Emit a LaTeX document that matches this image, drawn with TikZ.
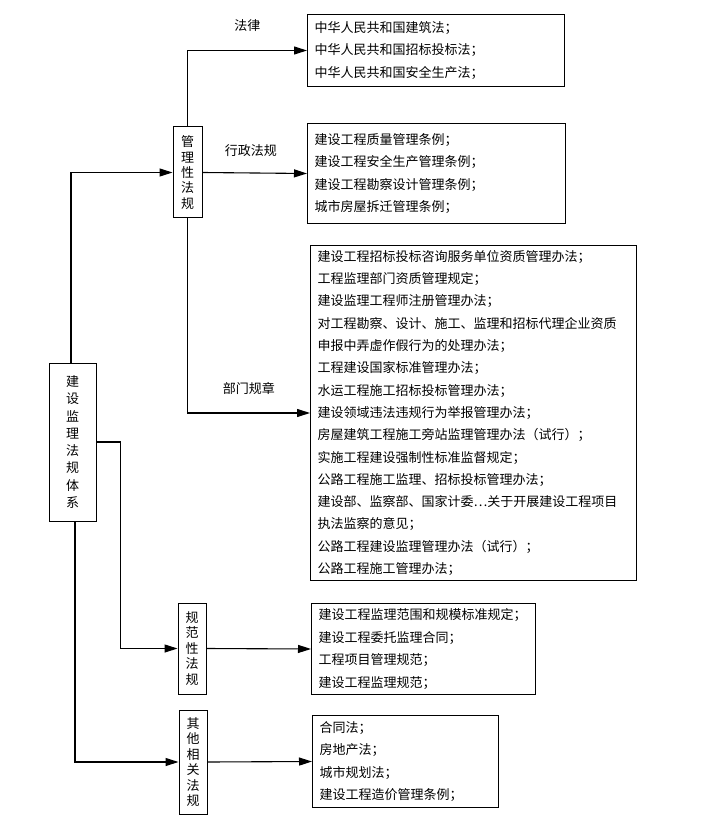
\documentclass[tikz,border=0pt]{standalone}
\usepackage{fontspec}
\setmainfont{Noto Sans CJK SC}
\usetikzlibrary{arrows.meta}

\tikzset{
	listbox/.style={draw, line width=1pt, anchor=north west, align=left, inner xsep=7pt, inner ysep=0pt, font=\fontsize{13}{22.5}\selectfont},
	colbox/.style={draw, line width=1pt, align=center, inner sep=0pt, font=\fontsize{13}{15.4}\selectfont},
	arr/.style={line width=1.1pt, -{Triangle[length=13pt,width=8pt]}},
	lbl/.style={font=\fontsize{13}{15}\selectfont},
}

\begin{document}
\begin{tikzpicture}[x=1pt, y=-1pt]
	\useasboundingbox (0,0) rectangle (713,834);

	\node[colbox, minimum width=47pt, minimum height=158pt, font=\fontsize{13}{17.3}\selectfont] (root) at (72.5,442) {建\\设\\监\\理\\法\\规\\体\\系};
	\node[colbox, minimum width=29pt, minimum height=91pt] (admin) at (187.5,172.5) {管\\理\\性\\法\\规};
	\node[colbox, minimum width=28pt, minimum height=91pt] (norm) at (192,648.5) {规\\范\\性\\法\\规};
	\node[colbox, minimum width=28pt, minimum height=104pt] (other) at (193,762) {其\\他\\相\\关\\法\\规};

	\node[listbox, text width=243pt, minimum height=72pt] (law) at (307,14) {中华人民共和国建筑法；\\中华人民共和国招标投标法；\\中华人民共和国安全生产法；};
	\node[listbox, text width=244pt, minimum height=100pt] (reg) at (307,123) {建设工程质量管理条例；\\建设工程安全生产管理条例；\\建设工程勘察设计管理条例；\\城市房屋拆迁管理条例；};
	\node[listbox, text width=312pt, minimum height=335pt, font=\fontsize{13}{22.3}\selectfont] (dept) at (310,245) {建设工程招标投标咨询服务单位资质管理办法；\\工程监理部门资质管理规定；\\建设监理工程师注册管理办法；\\对工程勘察、设计、施工、监理和招标代理企业资质\\申报中弄虚作假行为的处理办法；\\工程建设国家标准管理办法；\\水运工程施工招标投标管理办法；\\建设领域违法违规行为举报管理办法；\\房屋建筑工程施工旁站监理管理办法（试行）；\\实施工程建设强制性标准监督规定；\\公路工程施工监理、招标投标管理办法；\\建设部、监察部、国家计委…关于开展建设工程项目\\执法监察的意见；\\公路工程建设监理管理办法（试行）；\\公路工程施工管理办法；};
	\node[listbox, text width=210pt, minimum height=91pt] (normlist) at (311,603) {建设工程监理范围和规模标准规定；\\建设工程委托监理合同；\\工程项目管理规范；\\建设工程监理规范；};
	\node[listbox, text width=172pt, minimum height=92pt] (otherlist) at (312,715) {合同法；\\房地产法；\\城市规划法；\\建设工程造价管理条例；};

	\draw[arr] ([xshift=-1.5pt]root.north) |- (admin.west);
	\draw[arr] (admin.north) |- node[lbl, pos=0.75, yshift=25pt] {法律} (law.west);
	\draw[arr] (admin.east) -- node[lbl, midway, yshift=22pt, xshift=-4pt] {行政法规} (reg.west);
	\draw[arr] (admin.south) |- node[lbl, pos=0.75, yshift=25pt] {部门规章} (dept.west);
	\draw[arr] (root.east) -- ++(24,0) |- (norm.west);
	\draw[arr] ([xshift=2.5pt]root.south) |- (other.west);
	\draw[arr] (norm.east) -- (normlist.west);
	\draw[arr] (other.east) -- (otherlist.west);
\end{tikzpicture}
\end{document}
